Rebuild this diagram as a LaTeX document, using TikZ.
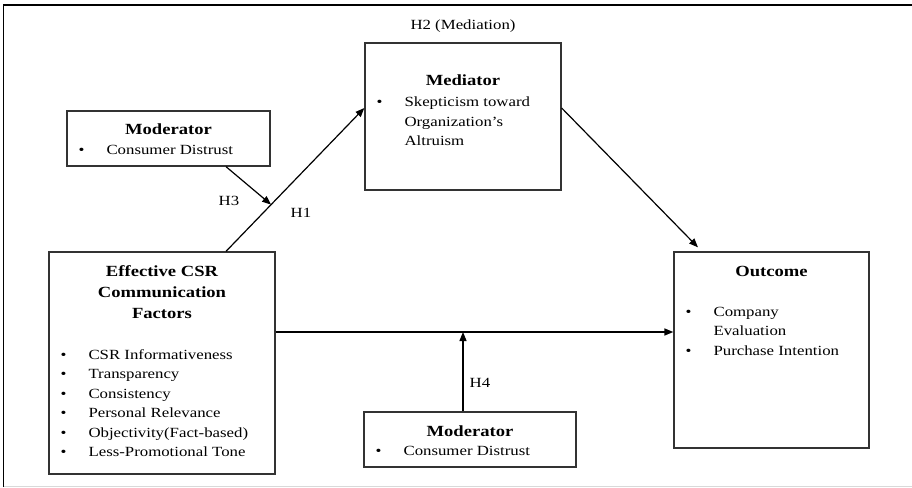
\documentclass[tikz,border=0pt]{standalone}
\usepackage{fontspec}
\setmainfont{Liberation Serif}[FakeStretch=1.2]
\usetikzlibrary{positioning,arrows.meta,calc}
\newcommand{\blist}[1]{\begin{tabular}[t]{@{}p{28pt}@{}l@{}}#1\end{tabular}}

\begin{document}
\begin{tikzpicture}[x=1pt,y=-1pt,>={Triangle[length=9pt,width=7pt]},
  box/.style={draw=black!80,line width=1.3pt,inner sep=0pt},
  head/.style={font=\fontsize{15.5}{21.3}\selectfont\bfseries,inner sep=0pt,anchor=base},
  items/.style={font=\fontsize{14}{19.5}\selectfont,inner sep=0pt,anchor=base west},
  hyp/.style={font=\fontsize{14}{17}\selectfont,inner sep=0pt},
  link/.style={->,line width=1.2pt}]
  \useasboundingbox (0,0) rectangle (912,487);
  % frame
  \draw[line width=1.4pt] (3.5,487) -- (3.5,5) -- (912,5);
  \draw[black!15,line width=1pt] (4,486) -- (912,486);

  % boxes
  \node[box,minimum width=196pt,minimum height=147pt] (med) at (463,116.5) {};
  \node[box,minimum width=203pt,minimum height=55pt] (modT) at (168.5,138.5) {};
  \node[box,minimum width=226pt,minimum height=222pt] (eff) at (162,363) {};
  \node[box,minimum width=195pt,minimum height=196pt] (out) at (771.5,350) {};
  \node[box,minimum width=212pt,minimum height=55pt] (modB) at (470,439.5) {};

  % box texts
  \node[head] (medhead) at ([yshift=-43pt]med.north) {Mediator};
  \node[items] (medlist) at ([xshift=12pt,yshift=-64.5pt]med.north west)
    {\blist{\textbullet & Skepticism toward\\ & Organization's\\ & Altruism}};
  \node[head] (modThead) at ([yshift=-24.5pt]modT.north) {Moderator};
  \node[items] (modTlist) at ([xshift=12pt,yshift=-44pt]modT.north west)
    {\blist{\textbullet & Consumer Distrust}};
  \node[head] (effhead) at ([yshift=-25pt]eff.north)
    {\begin{tabular}[t]{@{}c@{}}Effective CSR\\Communication\\Factors\end{tabular}};
  \node[items] (efflist) at ([xshift=12pt,yshift=-108pt]eff.north west)
    {\blist{\textbullet & CSR Informativeness\\ \textbullet & Transparency\\
      \textbullet & Consistency\\ \textbullet & Personal Relevance\\
      \textbullet & Objectivity(Fact-based)\\ \textbullet & Less-Promotional Tone}};
  \node[head] (outhead) at ([yshift=-25pt]out.north) {Outcome};
  \node[items] (outlist) at ([xshift=12pt,yshift=-65pt]out.north west)
    {\blist{\textbullet & Company\\ & Evaluation\\ \textbullet & Purchase Intention}};
  \node[head] (modBhead) at ([yshift=-25pt]modB.north) {Moderator};
  \node[items] (modBlist) at ([xshift=12pt,yshift=-44pt]modB.north west)
    {\blist{\textbullet & Consumer Distrust}};

  % paths
  \coordinate (h1s) at ([xshift=64pt]eff.north);
  \coordinate (h1e) at ([yshift=8.5pt]med.west);
  \draw[link] (h1s) -- (h1e);
  \coordinate (h3s) at ([xshift=57.5pt]modT.south);
  \coordinate (h3e) at ($(h1s)!0.326!(h1e)$);
  \draw[link] (h3s) -- (h3e);
  \draw[link] ([yshift=8.5pt]med.east) -- ([xshift=-73.5pt,yshift=4pt]out.north);
  \draw[link,line width=1.6pt] ([yshift=31pt]eff.east) coordinate (mainS) -- (mainS -| out.west);
  \coordinate (h4s) at ([xshift=-7pt]modB.north);
  \draw[link] (h4s) -- (h4s |- mainS);

  % hypotheses
  \node[hyp] (h2lab) at ([yshift=16pt]med.north) {H2 (Mediation)};
  \node[hyp] (h1lab) at (301,213) {H1};
  \node[hyp] (h3lab) at (229,201) {H3};
  \node[hyp] (h4lab) at (480,383) {H4};
\end{tikzpicture}
\end{document}
